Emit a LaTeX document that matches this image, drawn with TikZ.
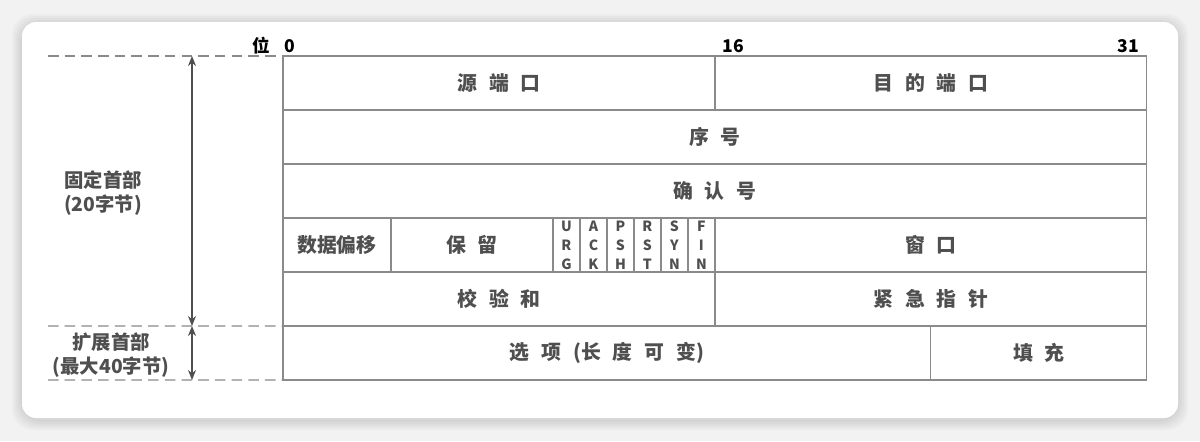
\documentclass[tikz,border=0pt]{standalone}
\usepackage{fontspec}
\setmainfont{Noto Sans CJK SC}
\usetikzlibrary{arrows.meta, positioning}
\definecolor{cellgray}{HTML}{8A8A8A}
\definecolor{textgray}{HTML}{4F4F4F}
\definecolor{pagegray}{HTML}{F2F2F2}
\newcommand{\gp}{\hspace{0.6em}}

\begin{document}
\begin{tikzpicture}[x=0.02cm, y=-0.02cm,
		% define styles
		cellstyle/.style={
			% The shape:
			rectangle,
			% The size:
			minimum height=1.08cm, inner sep=0pt, outer sep=0pt,
			% The border:
			draw=cellgray, line width=0.7pt,
			% Font
			text=textgray, font=\fontsize{11.3}{13}\selectfont\bfseries
		},
		flagstyle/.style={
			cellstyle,
			% The size:
			minimum width=0.54cm,
			% Font
			align=center, font=\fontsize{8}{10.8}\selectfont\bfseries
		},
		sidestyle/.style={
			align=center,
			text=textgray,
			font=\fontsize{11}{14}\selectfont\bfseries
		},
		bitstyle/.style={
			anchor=base,
			text=black,
			font=\fontsize{10}{12}\selectfont\bfseries
		},
		dashstyle/.style={
			dashed, dash pattern=on 6pt off 3.5pt,
			draw=cellgray, line width=0.7pt
		},
		arrow/.style={
			{Stealth[length=2mm,width=1.6mm]}-{Stealth[length=2mm,width=1.6mm]},
			% Thickness
			line width=1pt,
			% Color
			textgray
		}]
		% end of style definition

		% card
		\useasboundingbox (0,0) rectangle (1200,441);
		\fill[pagegray] (0,0) rectangle (1200,441);
		\foreach \s in {10,8,6,4,2}
			\fill[black, opacity=0.025, rounded corners=12] (22-\s,22-\s+2) rectangle (1178+\s,418+\s+2);
		\fill[white, rounded corners=8] (22,22) rectangle (1178,418);

		% draw nodes
		\node (iSrcPort) [cellstyle, minimum width=8.64cm, anchor=north west] at (283,56) {源\gp 端\gp 口};
		\node (iDstPort) [cellstyle, minimum width=8.64cm, right=0pt of iSrcPort] {目\gp 的\gp 端\gp 口};

		\node (iSeq) [cellstyle, minimum width=17.28cm, below right=0pt of iSrcPort.south west] {序\gp 号};
		\node (iAck) [cellstyle, minimum width=17.28cm, below right=0pt of iSeq.south west] {确\gp 认\gp 号};

		\node (iOffset) [cellstyle, minimum width=2.16cm, below right=0pt of iAck.south west] {数据偏移};
		\node (iReserved) [cellstyle, minimum width=3.24cm, right=0pt of iOffset] {保\gp 留};
		\node (iURG) [flagstyle, right=0pt of iReserved] {U\\R\\G};
		\node (iACK) [flagstyle, right=0pt of iURG] {A\\C\\K};
		\node (iPSH) [flagstyle, right=0pt of iACK] {P\\S\\H};
		\node (iRST) [flagstyle, right=0pt of iPSH] {R\\S\\T};
		\node (iSYN) [flagstyle, right=0pt of iRST] {S\\Y\\N};
		\node (iFIN) [flagstyle, right=0pt of iSYN] {F\\I\\N};
		\node (iWindow) [cellstyle, minimum width=8.64cm, right=0pt of iFIN] {窗\gp 口};

		\node (iChecksum) [cellstyle, minimum width=8.64cm, below right=0pt of iOffset.south west] {校\gp 验\gp 和};
		\node (iUrgent) [cellstyle, minimum width=8.64cm, right=0pt of iChecksum] {紧\gp 急\gp 指\gp 针};

		\node (iOptions) [cellstyle, minimum width=12.96cm, below right=0pt of iChecksum.south west] {选\gp 项\gp (长\gp 度\gp 可\gp 变)};
		\node (iPadding) [cellstyle, minimum width=4.32cm, right=0pt of iOptions] {填\gp 充};

		% bit numbers
		\node (iBitLabel) [bitstyle] at (261,52) {位};
		\node (iBit0) [bitstyle] at (290,52) {0};
		\node (iBit16) [bitstyle] at (733,52) {16};
		\node (iBit31) [bitstyle] at (1128,52) {31};

		% side labels
		\node (iFixed) [sidestyle] at (103,193) {固定首部\\(20字节)};
		\node (iExtended) [sidestyle] at (111,355) {扩展首部\\(最大40字节)};

		\coordinate (iDashTop) at (48,56);
		\coordinate (iDashMid) at (48,326);
		\coordinate (iDashBot) at (48,380);
		\coordinate (iArrowTop) at (192,56);
		\coordinate (iArrowMid) at (192,326);
		\coordinate (iArrowBot) at (192,380);

		% connect nodes
		\draw [dashstyle] (iDashTop) -- (iSrcPort.north west);
		\draw [dashstyle] (iDashMid) -- (iOptions.north west);
		\draw [dashstyle] (iDashBot) -- (iOptions.south west);

		\draw [arrow] (iArrowTop) -- (iArrowMid);
		\draw [arrow] (iArrowMid) -- (iArrowBot);
	\end{tikzpicture}
\end{document}
